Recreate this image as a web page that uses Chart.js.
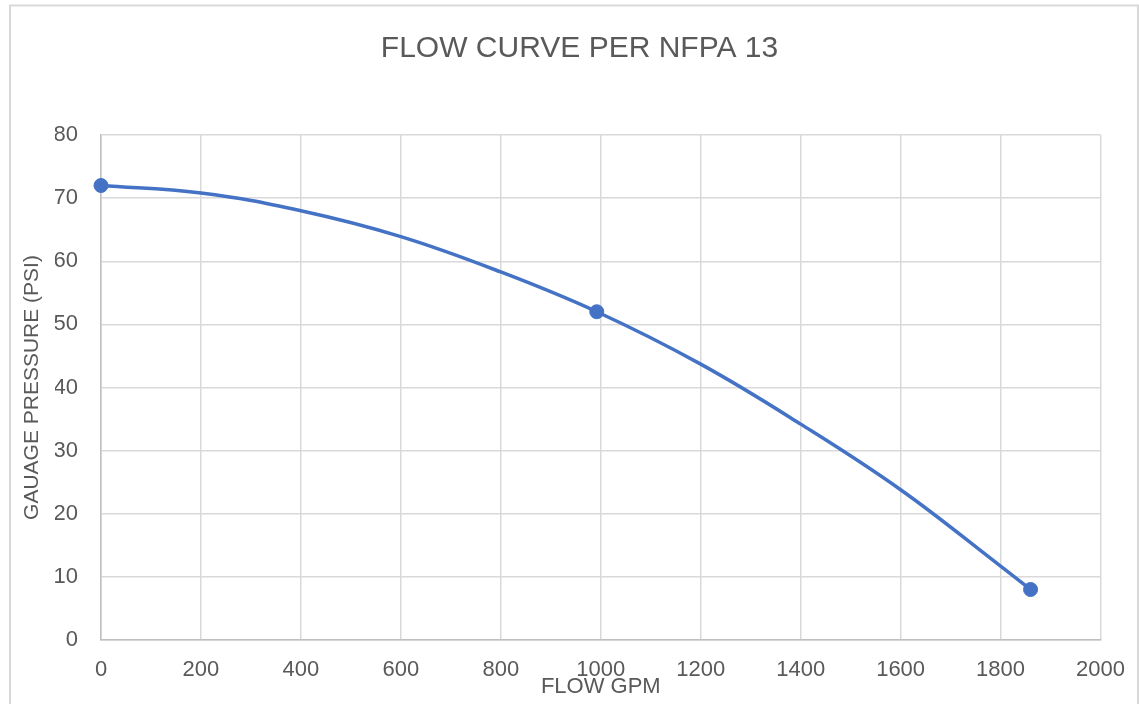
<!DOCTYPE html>
<html>
<head>
<meta charset="utf-8">
<script src="https://cdn.jsdelivr.net/npm/chart.js@4/dist/chart.umd.min.js"></script>
<style>
  html, body { margin: 0; padding: 0; background: #fff; }
</style>
</head>
<body>
<canvas id="flowChart" width="1139" height="704"></canvas>
<script>
// measured points (markers)
const flowGpm = [0, 992, 1860];
const pressurePsi = [72, 52, 8];

// curve
const curveFlow = [0, 200, 400, 600, 800, 992, 1200, 1400, 1600, 1800, 1860];
const curvePressure = [72, 70.8, 68.0, 63.9, 58.3, 52, 43.7, 34.2, 23.8, 11.7, 8];

const chartTitle = 'FLOW CURVE PER NFPA 13';
const xTitle = 'FLOW GPM';
const yTitle = 'GAUAGE PRESSURE (PSI)';

const blue = '#4472C4';
const textGrey = '#595959';
const font = 'Liberation Sans, Arial, sans-serif';

const toXY = (xs, ys) => xs.map((x, i) => ({ x: x, y: ys[i] }));

// light frame round the whole chart
const outerFrame = {
  id: 'outerFrame',
  beforeDraw(chart) {
    const ctx = chart.ctx;
    ctx.save();
    ctx.strokeStyle = '#d9d9d9';
    ctx.lineWidth = 2;
    ctx.strokeRect(10, 5.5, 1128, 800);
    ctx.restore();
  }
};

function drawFlowChart() {
  const ctx = document.getElementById('flowChart').getContext('2d');

  new Chart(ctx, {
    type: 'scatter',
    data: {
      datasets: [{
        label: 'curve',
        data: toXY(curveFlow, curvePressure),
        showLine: true,
        borderColor: blue,
        borderWidth: 3.5,
        pointRadius: 0,
        tension: 0.4,
        clip: false
      }, {
        label: 'points',
        data: toXY(flowGpm, pressurePsi),
        showLine: false,
        backgroundColor: blue,
        borderColor: blue,
        pointRadius: 7,
        pointBorderWidth: 1,
        clip: false
      }]
    },
    options: {
      responsive: false,
      animation: false,
      // left padding is wide so the title centres where the original does
      layout: { padding: { left: 55, right: 35, top: 0, bottom: 0 } },
      plugins: {
        legend: { display: false },
        tooltip: { enabled: false },
        title: {
          display: true,
          text: chartTitle,
          color: textGrey,
          font: { family: font, size: 30, weight: 'normal' },
          padding: { top: 31, bottom: 68 }
        }
      },
      scales: {
        x: {
          type: 'linear',
          min: 0,
          max: 2000,
          afterFit: scale => { scale.height = 64; },
          ticks: {
            stepSize: 200,
            color: textGrey,
            padding: 14,
            font: { family: font, size: 22 },
            callback: v => String(v)
          },
          grid: { color: '#d9d9d9', lineWidth: 1.5, drawTicks: true, tickLength: 3, tickColor: 'transparent' },
          border: { color: '#bfbfbf', width: 1.5 },
          title: {
            display: true,
            text: xTitle,
            color: textGrey,
            font: { family: font, size: 22 },
            padding: { top: 0, bottom: 4 }
          }
        },
        y: {
          min: 0,
          max: 80,
          afterFit: scale => { scale.width = 46; },
          ticks: {
            stepSize: 10,
            color: textGrey,
            padding: 20,
            font: { family: font, size: 22 },
            callback: v => String(v)
          },
          grid: { color: '#d9d9d9', lineWidth: 1.5, drawTicks: true, tickLength: 3, tickColor: 'transparent' },
          border: { color: '#bfbfbf', width: 1.5 },
          title: {
            display: true,
            text: yTitle,
            color: textGrey,
            font: { family: font, size: 21 },
            padding: { top: -35, bottom: 0 }
          }
        }
      }
    },
    plugins: [outerFrame]
  });
}

window.onload = drawFlowChart;
</script>
</body>
</html>
